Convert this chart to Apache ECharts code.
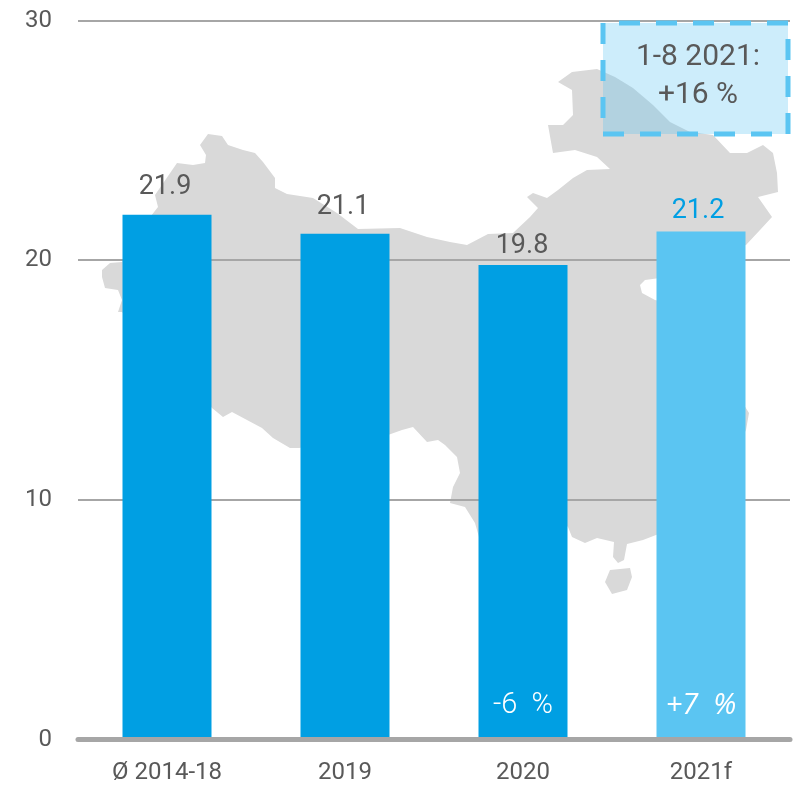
<!DOCTYPE html>
<html>
<head>
<meta charset="utf-8">
<title>China</title>
<script src="https://cdn.jsdelivr.net/npm/echarts@6/dist/echarts.min.js"></script>
<style>
  html, body { margin: 0; padding: 0; background: #fff; }
  #chart { width: 794px; height: 785px; }
</style>
</head>
<body>
<div id="chart"></div>
<script>
var categories = ['Ø 2014-18', '2019', '2020', '2021f']
var values = [21.9, 21.1, 19.8, 21.2]
var changeLabels = ['', '', '-6\u00a0\u00a0%', '+7\u00a0\u00a0%']
var yTicks = [0, 10, 20, 30]

var BLUE = '#009fe3'
var LIGHT_BLUE = '#5bc5f2'
var TEXT = '#595959'
var LINE = '#a6a6a6'
var FONT = 'Roboto, sans-serif'

// the value labels do not sit evenly above the bars in the original
var labelGaps = [14, 13, 5, 7]
var labelShifts = [-2, -2, -1, -3]

// background silhouette, traced by hand in page pixels (decoration only)
var mapOutline = [
  [102,270],[110,263],[122,262],[140,230],[158,207],[155,195],[177,163],[193,165],[205,163],[206,155],
  [200,145],[208,134],[222,136],[228,145],[243,150],[255,153],[263,162],[275,178],[275,188],[287,194],
  [313,198],[337,213],[358,229],[400,228],[427,237],[450,242],[467,245],[488,234],[513,233],[530,217],
  [538,208],[527,197],[533,193],[547,198],[558,190],[573,178],[587,170],[610,169],[597,157],[575,150],
  [553,153],[548,125],[563,125],[573,115],[572,90],[558,82],[572,72],[597,69],[615,77],[633,88],
  [653,105],[670,122],[690,132],[713,135],[730,153],[747,153],[763,145],[773,153],[777,173],[778,192],
  [758,197],[772,217],[760,230],[746,245],[700,262],[660,278],[645,280],[640,285],[642,293],[655,300],
  [700,310],[735,370],[744,405],[749,413],[746,430],[700,520],[656,535],[643,540],[627,544],[624,560],
  [618,563],[613,557],[614,542],[597,538],[585,543],[572,537],[568,527],[566,525],[479,537],[475,523],
  [465,507],[450,503],[453,487],[460,473],[457,457],[445,445],[438,440],[427,442],[413,427],[402,430],
  [388,435],[299,448],[290,448],[273,438],[262,428],[247,420],[232,412],[223,417],[212,408],[122,312],
  [118,312],[122,300],[118,290],[105,288],[102,277]
]
var hainanOutline = [[605,582],[610,570],[630,568],[632,577],[627,590],[612,594]]

var chart = echarts.init(document.getElementById('chart'))

chart.setOption({
  animation: false,
  textStyle: { fontFamily: FONT },
  grid: { left: 78, right: 4, top: 20.5, bottom: 45.5 },
  xAxis: {
    type: 'category',
    data: categories,
    z: 3,
    axisLine: { lineStyle: { color: LINE, width: 5 } },
    axisTick: { show: false },
    axisLabel: { color: TEXT, fontSize: 24, fontFamily: FONT, margin: 21 }
  },
  yAxis: {
    type: 'value',
    min: yTicks[0],
    max: yTicks[yTicks.length - 1],
    interval: 10,
    axisLine: { show: false },
    axisTick: { show: false },
    axisLabel: {
      color: TEXT,
      fontSize: 24,
      fontFamily: FONT,
      margin: 26,
      padding: [4, 0, 0, 0]
    },
    splitLine: { lineStyle: { color: LINE, width: 2 } }
  },
  series: [
    {
      type: 'bar',
      barWidth: '50%',
      barGap: '-100%',
      data: values.map(function(v, i) {
        var forecast = i === values.length - 1
        return {
          value: v,
          itemStyle: { color: forecast ? LIGHT_BLUE : BLUE },
          label: {
            color: forecast ? BLUE : TEXT,
            distance: labelGaps[i],
            offset: [labelShifts[i], 0]
          }
        }
      }),
      label: {
        show: true,
        position: 'top',
        fontSize: 27,
        fontFamily: FONT,
        formatter: function(p) { return p.value.toFixed(1) }
      }
    },
    {
      // invisible overlay that only carries the change labels at the bar foot
      type: 'bar',
      barWidth: '50%',
      barGap: '-100%',
      silent: true,
      itemStyle: { color: 'transparent' },
      data: values,
      label: {
        show: true,
        position: 'insideBottom',
        distance: 19,
        color: '#fff',
        fontFamily: FONT,
        formatter: function(p) {
          var text = changeLabels[p.dataIndex]
          if (!text) return ''
          return (p.dataIndex === values.length - 1 ? '{i|' : '{n|') + text + '}'
        },
        rich: {
          n: { color: '#fff', fontSize: 29, fontWeight: 300, fontFamily: FONT },
          // Roboto has no italic face here, Open Sans does
          i: { color: '#fff', fontSize: 29, fontFamily: '"Open Sans", sans-serif', fontStyle: 'italic' }
        }
      }
    }
  ],
  graphic: [
    {
      type: 'polygon',
      z: -1,
      shape: { points: mapOutline },
      style: { fill: '#d9d9d9' }
    },
    {
      type: 'polygon',
      z: -1,
      shape: { points: hainanOutline },
      style: { fill: '#d9d9d9' }
    },
    {
      type: 'rect',
      z: 10,
      shape: { x: 603, y: 23, width: 185, height: 111 },
      style: {
        fill: 'rgba(91,197,242,0.3)',
        stroke: LIGHT_BLUE,
        lineWidth: 5,
        lineDash: [21, 16],
        lineDashOffset: 21
      }
    },
    {
      type: 'text',
      z: 11,
      x: 698,
      y: 76,
      style: {
        text: '1-8 2021:\n+16 %',
        fill: TEXT,
        font: '30px Roboto, sans-serif',
        lineHeight: 38,
        align: 'center',
        verticalAlign: 'middle'
      }
    }
  ]
})
</script>
</body>
</html>
